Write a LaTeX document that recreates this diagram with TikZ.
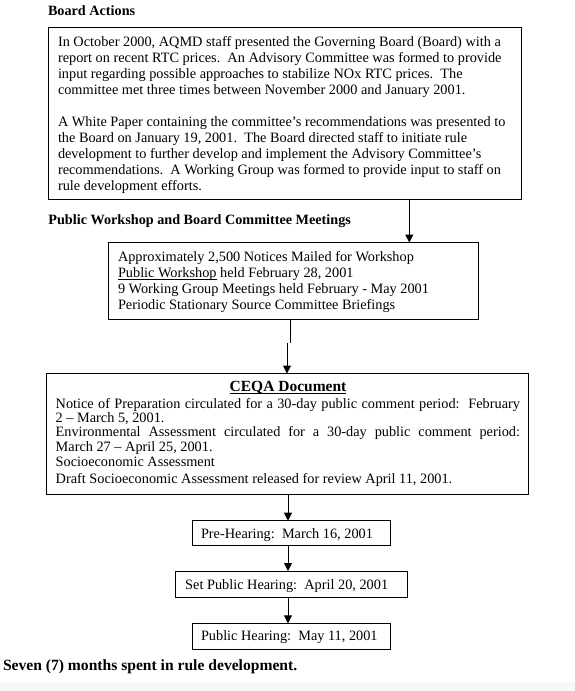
\documentclass[tikz,border=0pt]{standalone}
\usepackage{fontspec}
\setmainfont{Liberation Serif}
\usetikzlibrary{arrows.meta}
\definecolor{bandgray}{HTML}{F7F7F7}
\tikzset{
  txt/.style={anchor=base west, inner sep=0pt, outer sep=0pt, font=\fontsize{14.3}{17}\selectfont},
  hd/.style={anchor=base west, inner sep=0pt, outer sep=0pt, font=\fontsize{14.2}{17}\selectfont\bfseries},
  boxx/.style={draw, line width=1pt, inner sep=0pt, outer sep=0pt, minimum width=#1},
  arr/.style={line width=1pt, -{Triangle[length=8pt,width=8pt]}},
  ln/.style={line width=1pt},
  ul/.style={line width=0.9pt}
}
\begin{document}
\begin{tikzpicture}[x=1pt,y=-1pt]
\useasboundingbox (0,0) rectangle (575,691);
\fill[white] (0,0) rectangle (575,691);
\fill[bandgray] (0,682) rectangle (575,691);

% headings
\node[hd] (h1) at (48,15) {Board Actions};
\node[hd] (h2) at (48.4,224) {Public Workshop and Board Committee Meetings};
\node[hd, font=\fontsize{15.6}{18}\selectfont\bfseries] (h3) at (3,670.5) {Seven (7) months spent in rule development.};

% box 1
\node[boxx=473pt, minimum height=171.5pt] (b1) at (285,113.25) {};
\node[txt] (t11) at (58,46.2) {In October 2000, AQMD staff presented the Governing Board (Board) with a};
\node[txt] (t12) at (58,62.4) {report on recent RTC prices.\ \ An Advisory Committee was formed to provide};
\node[txt] (t13) at (58,78.6) {input regarding possible approaches to stabilize NOx RTC prices.\ \ The};
\node[txt] (t14) at (58,94.8) {committee met three times between November 2000 and January 2001.};
\node[txt] (t15) at (58,126) {A White Paper containing the committee’s recommendations was presented to};
\node[txt] (t16) at (58,142.2) {the Board on January 19, 2001.\ \ The Board directed staff to initiate rule};
\node[txt] (t17) at (58,158.4) {development to further develop and implement the Advisory Committee’s};
\node[txt] (t18) at (58,174.6) {recommendations.\ \ A Working Group was formed to provide input to staff on};
\node[txt] (t19) at (58,190.8) {rule development efforts.};

% box 2
\node[boxx=370pt, minimum height=76.5pt] (b2) at (293.5,280.75) {};
\node[txt] (t21) at (118,261) {Approximately 2,500 Notices Mailed for Workshop};
\node[txt] (t22a) at (118,277.2) {Public Workshop};
\node[txt] (t22b) at (t22a.base east) {\ held February 28, 2001};
\draw[ul] ([yshift=-1.8pt]t22a.base west) -- ([yshift=-1.8pt]t22a.base east);
\node[txt] (t23) at (118,293.4) {9 Working Group Meetings held February - May 2001};
\node[txt] (t24) at (118,309.6) {Periodic Stationary Source Committee Briefings};

% box 3
\node[boxx=481.7pt, minimum height=120.5pt] (b3) at (287.55,433.75) {};
\node[anchor=base, inner sep=0pt, outer sep=0pt, font=\fontsize{15.5}{18}\selectfont\bfseries] (t30) at (288,391.5) {CEQA Document};
\draw[ul] ([yshift=-1.8pt]t30.base west) -- ([yshift=-1.8pt]t30.base east);
\node[txt] (t31) at (55.7,408) {\makebox[464.3pt][s]{Notice of Preparation circulated for a 30-day public comment period:\ \ February}};
\node[txt] (t32) at (55.7,422.5) {2 – March 5, 2001.};
\node[txt] (t33) at (55.7,436.5) {\makebox[464.3pt][s]{Environmental Assessment circulated for a 30-day public comment period:}};
\node[txt] (t34) at (55.7,451) {March 27 – April 25, 2001.};
\node[txt] (t35) at (55.7,466.5) {Socioeconomic Assessment};
\node[txt] (t36) at (55.7,483) {Draft Socioeconomic Assessment released for review April 11, 2001.};

% boxes 4-6
\node[boxx=198pt, minimum height=24.3pt] (b4) at (291.5,532.85) {};
\node[txt] (t4) at (201,538) {Pre-Hearing:\ \ March 16, 2001};
\node[boxx=232.5pt, minimum height=26.3pt] (b5) at (291.55,584.15) {};
\node[txt] (t5) at (185.2,589) {Set Public Hearing:\ \ April 20, 2001};
\node[boxx=198pt, minimum height=26pt] (b6) at (291.5,636.3) {};
\node[txt] (t6) at (201,640.5) {Public Hearing:\ \ May 11, 2001};

% connectors
\draw[arr] (b1.south -| 409.3,0) -- (b2.north -| 409.3,0);
\coordinate (j1) at (290,343);
\coordinate (j2) at (287,343);
\draw[ln] (b2.south -| j1) -- (j1);
\draw[arr] (j2) -- (b3.north -| j2);
\draw[arr] (b3.south -| 288,0) -- (b4.north -| 288,0);
\draw[arr] (b4.south -| 288,0) -- (b5.north -| 288,0);
\draw[arr] (b5.south -| 288,0) -- (b6.north -| 288,0);
\end{tikzpicture}
\end{document}
